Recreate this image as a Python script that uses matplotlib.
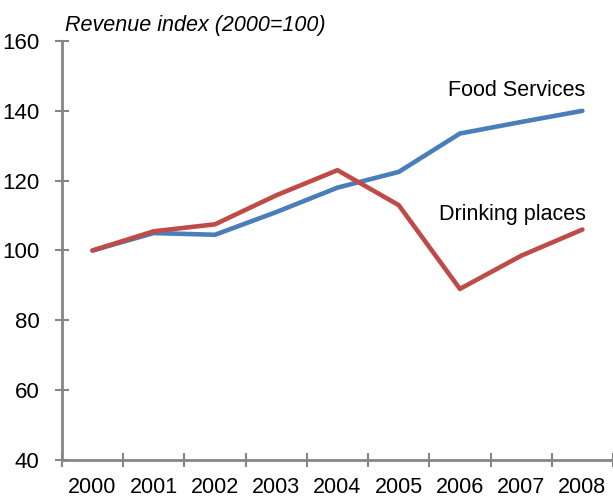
import matplotlib.pyplot as plt
import numpy as np

plt.rcParams["font.family"] = ["Liberation Sans", "DejaVu Sans"]

years = ["2000", "2001", "2002", "2003", "2004", "2005", "2006", "2007", "2008"]
food_services = [100, 105, 104.5, 111, 118, 122.5, 133.5, 136.8, 140]
drinking_places = [100, 105.5, 107.5, 115.8, 123, 113, 89, 98.5, 106]

blue = "#4a7ebb"
red = "#be4b48"
grey = "#868686"

fig = plt.figure(figsize=(6.13, 4.98), dpi=100)
ax = fig.add_axes([0.101, 0.0763, 0.899, 0.8414])

x = np.arange(len(years))
ax.plot(x, food_services, color=blue, lw=3.3, solid_joinstyle="round", solid_capstyle="round")
ax.plot(x, drinking_places, color=red, lw=3.3, solid_joinstyle="round", solid_capstyle="round")

ax.set_xlim(-0.5, len(years) - 0.5)
ax.set_ylim(40, 160)
ax.set_yticks(range(40, 161, 20))

# year labels sit between the category tick marks
ax.set_xticks(x)
ax.set_xticklabels(years)
ax.set_xticks(np.arange(-0.5, len(years)), minor=True)
ax.tick_params(axis="x", which="major", length=0, pad=12, labelsize=15.5)
ax.tick_params(axis="x", which="minor", length=10, direction="inout", color=grey, width=1.5)
ax.tick_params(axis="y", length=10, direction="inout", color=grey, width=1.5, pad=11, labelsize=16)

for side in ["top", "right"]:
    ax.spines[side].set_visible(False)
for side in ["left", "bottom"]:
    ax.spines[side].set_color(grey)
    ax.spines[side].set_linewidth(2)
ax.spines["bottom"].set_zorder(0)

ax.text(0.005, 163, "Revenue index (2000=100)", fontsize=15.5,
        style="italic", va="baseline", ha="left",
        transform=ax.get_yaxis_transform())
ax.text(8.05, 144.3, "Food Services", fontsize=15.5, ha="right", va="baseline")
ax.text(8.05, 108.8, "Drinking places", fontsize=15.5, ha="right", va="baseline")

fig.savefig("out.png", dpi=100)
